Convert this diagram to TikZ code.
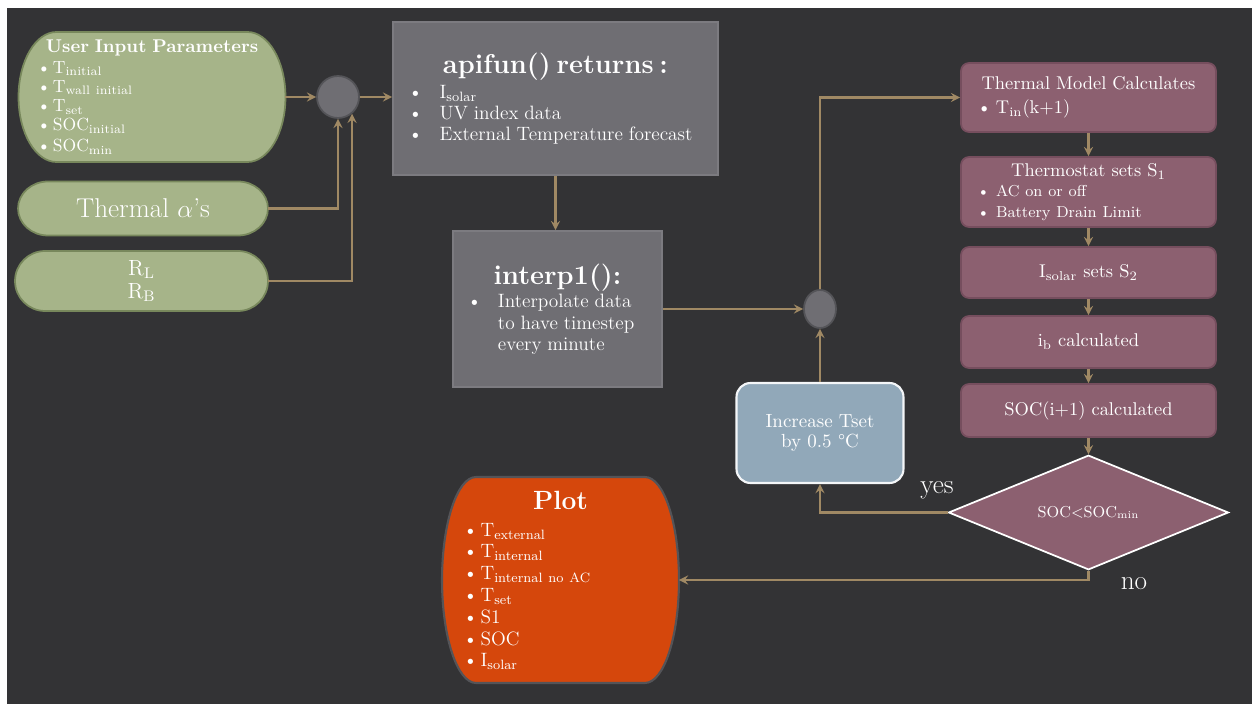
\documentclass[tikz,border=0pt]{standalone}
\usetikzlibrary{positioning,shapes.geometric,arrows,calc,backgrounds}

\definecolor{slate}{RGB}{51,51,53}
\definecolor{sage}{RGB}{166,180,137}
\definecolor{sageLine}{RGB}{120,136,92}
\definecolor{ash}{RGB}{111,110,115}
\definecolor{ashLine}{RGB}{124,123,128}
\definecolor{joinLine}{RGB}{84,84,88}
\definecolor{mauve}{RGB}{140,96,112}
\definecolor{mauveLine}{RGB}{118,78,94}
\definecolor{steel}{RGB}{145,168,185}
\definecolor{rust}{RGB}{213,71,12}
\definecolor{wireTan}{RGB}{160,137,100}

\newcommand{\setfs}[2]{\fontsize{#1}{#2}\selectfont}
\newcommand{\bitem}[2]{\makebox[#1][l]{\textbullet}\mbox{#2}}
% box with elliptic sides, drawn behind a named node
\newcommand{\bulge}[4]{%
  \path[#1] ($(#2.north west)+(#3,0)$) -- ($(#2.north east)+(-#3,0)$)
    arc[start angle=90, end angle=0, x radius=#3, y radius=#4]
    -- ($(#2.south east)+(0,#4)$)
    arc[start angle=0, end angle=-90, x radius=#3, y radius=#4]
    -- ($(#2.south west)+(#3,0)$)
    arc[start angle=270, end angle=180, x radius=#3, y radius=#4]
    -- ($(#2.north west)+(0,-#4)$)
    arc[start angle=180, end angle=90, x radius=#3, y radius=#4] -- cycle;}

\tikzset{
  inputNode/.style={rectangle, inner sep=0pt, outer sep=0pt, text=white},
  inputFill/.style={fill=sage, draw=sageLine, line width=1pt},
  funcBox/.style={rectangle, fill=ash, draw=ashLine, line width=1pt, inner sep=0pt, text=white},
  joinNode/.style={fill=ash, draw=joinLine, line width=1pt, inner sep=0pt},
  stepNode/.style={rectangle, rounded corners=0.16cm, fill=mauve, draw=mauveLine, line width=1pt,
    inner sep=0pt, text=white, minimum width=5.1cm, text width=4.46cm},
  decision/.style={diamond, fill=mauve, draw=white, line width=1pt, inner sep=0pt, text=white,
    minimum width=5.6cm, minimum height=1.98cm},
  tsetNode/.style={rectangle, rounded corners=0.28cm, fill=steel, draw=white!90!steel, line width=1.2pt,
    text=white, align=center},
  plotFill/.style={fill=rust, draw=joinLine, line width=1.2pt},
  edgeLabel/.style={text=white, font=\setfs{15.5}{18}},
  applyOp/.style={-stealth, draw=wireTan, line width=1.3pt}
}

\begin{document}
\begin{tikzpicture}[x=0.02cm, y=0.02cm]
  \useasboundingbox (0,0) rectangle (1252,704);

  % inputs
  \node[inputNode, minimum width=5.34cm, minimum height=2.6cm, text width=4.6cm] (user) at (152,607)
    {{\centering\bfseries\setfs{10.5}{12}User Input Parameters\par}\vspace{1pt}
     \setfs{10}{10.9}\bitem{9pt}{T\textsubscript{initial}}\\
     \bitem{9pt}{T\textsubscript{wall initial}}\\
     \bitem{9pt}{T\textsubscript{set}}\\
     \bitem{9pt}{SOC\textsubscript{initial}}\\
     \bitem{9pt}{SOC\textsubscript{min}}};
  \node[inputNode, minimum width=5cm, minimum height=1.08cm, font=\setfs{15.5}{18}] (thermal) at (143,495.5)
    {Thermal $\alpha$'s};
  \node[inputNode, minimum width=5.06cm, minimum height=1.2cm, align=center, font=\setfs{12.5}{13}] (res) at (141.5,423)
    {R\textsubscript{L}\\R\textsubscript{B}};
  \node[joinNode, circle, minimum size=0.84cm] (junA) at (338,607) {};

  % data
  \node[funcBox, minimum width=6.5cm, minimum height=3.06cm, text width=5.9cm] (apifun) at (555.5,605.5)
    {{\centering\bfseries\setfs{15.5}{18}apifun() returns :\par}\vspace{3pt}
     \setfs{11}{11.6}\bitem{18pt}{I\textsubscript{solar}}\\
     \bitem{18pt}{UV index data}\\
     \bitem{18pt}{External Temperature forecast}};
  \node[funcBox, minimum width=4.18cm, minimum height=3.12cm, text width=3.62cm] (interp) at (557.5,395)
    {{\centering\bfseries\setfs{15.5}{18}interp1():\par}\vspace{1pt}
     \setfs{11}{12.3}\bitem{17.6pt}{Interpolate data}\\
     \hspace*{17.6pt}to have timestep\\
     \hspace*{17.6pt}every minute};
  \node[joinNode, ellipse, minimum width=0.64cm, minimum height=0.76cm] (junB) at (820,395) {};

  % model loop
  \node[stepNode, minimum height=1.38cm] (model) at (1088.5,606.5)
    {{\centering\setfs{10.5}{12}Thermal Model Calculates\par}\vspace{2pt}
     \setfs{10.5}{12}\bitem{10.8pt}{T\textsubscript{in}(k+1)}};
  \node[stepNode, minimum height=1.4cm] (thermostat) at (1088.5,512)
    {{\centering\setfs{10.5}{12}Thermostat sets S\textsubscript{1}\par}\vspace{1pt}
     \setfs{9}{10.5}\bitem{10.8pt}{AC on or off}\\
     \bitem{10.8pt}{Battery Drain Limit}};
  \node[stepNode, minimum height=1.02cm, align=center, font=\setfs{10.5}{12}] (solar) at (1088.5,431.5)
    {I\textsubscript{solar} sets S\textsubscript{2}};
  \node[stepNode, minimum height=1.04cm, align=center, font=\setfs{10.5}{12}] (ib) at (1088.5,362)
    {i\textsubscript{b} calculated};
  \node[stepNode, minimum height=1.06cm, align=center, font=\setfs{10.5}{12}] (soc) at (1088.5,293.5)
    {SOC(i+1) calculated};
  \node[decision, font=\setfs{9}{11}] (check) at (1088.5,191.5)
    {SOC\textless SOC\textsubscript{min}};

  \node[tsetNode, minimum width=3.34cm, minimum height=2cm, font=\setfs{10.8}{11.4}] (incr) at (820,271)
    {Increase Tset\\by 0.5 °C};

  % output
  \node[inputNode, minimum width=4.74cm, minimum height=4.12cm, text width=3.9cm] (plot) at (560.5,124)
    {{\centering\bfseries\setfs{15}{18}Plot\par}\vspace{3pt}
     \setfs{11}{12.4}\bitem{10pt}{T\textsubscript{external}}\\
     \bitem{10pt}{T\textsubscript{internal}}\\
     \bitem{10pt}{T\textsubscript{internal no AC}}\\
     \bitem{10pt}{T\textsubscript{set}}\\
     \bitem{10pt}{S1}\\
     \bitem{10pt}{SOC}\\
     \bitem{10pt}{I\textsubscript{solar}}};

  \node[edgeLabel] (yesLbl) at (937,214) {yes};
  \node[edgeLabel] (noLbl) at (1134,120) {no};

  \begin{pgfonlayer}{background}
    \fill[white] (0,0) rectangle (1252,704);
    \fill[slate] (7,0) rectangle (1252,696);
    \bulge{inputFill}{user}{38}{65}
    \bulge{inputFill}{thermal}{30}{27}
    \bulge{inputFill}{res}{30}{30}
    \bulge{plotFill}{plot}{34}{103}
  \end{pgfonlayer}

  % connectors
  \draw[applyOp] (user.east) -- (junA.west);
  \draw[applyOp] (thermal.east) -| (junA.south);
  \draw[applyOp] (res.east) -| (junA.-50);
  \draw[applyOp] (junA.east) -- (junA.east -| apifun.west);
  \draw[applyOp] (apifun.south) -- (apifun.south |- interp.north);
  \draw[applyOp] (interp.east) -- (junB.west);
  \draw[applyOp] (junB.north) |- (model.west);
  \draw[applyOp] (model.south) -- (thermostat.north);
  \draw[applyOp] (thermostat.south) -- (solar.north);
  \draw[applyOp] (solar.south) -- (ib.north);
  \draw[applyOp] (ib.south) -- (soc.north);
  \draw[applyOp] (soc.south) -- (check.north);
  \draw[applyOp] (check.west) -| (incr.south);
  \draw[applyOp] (incr.north) -- (junB.south);
  \draw[applyOp] (check.south) |- (plot.east);

\end{tikzpicture}
\end{document}
